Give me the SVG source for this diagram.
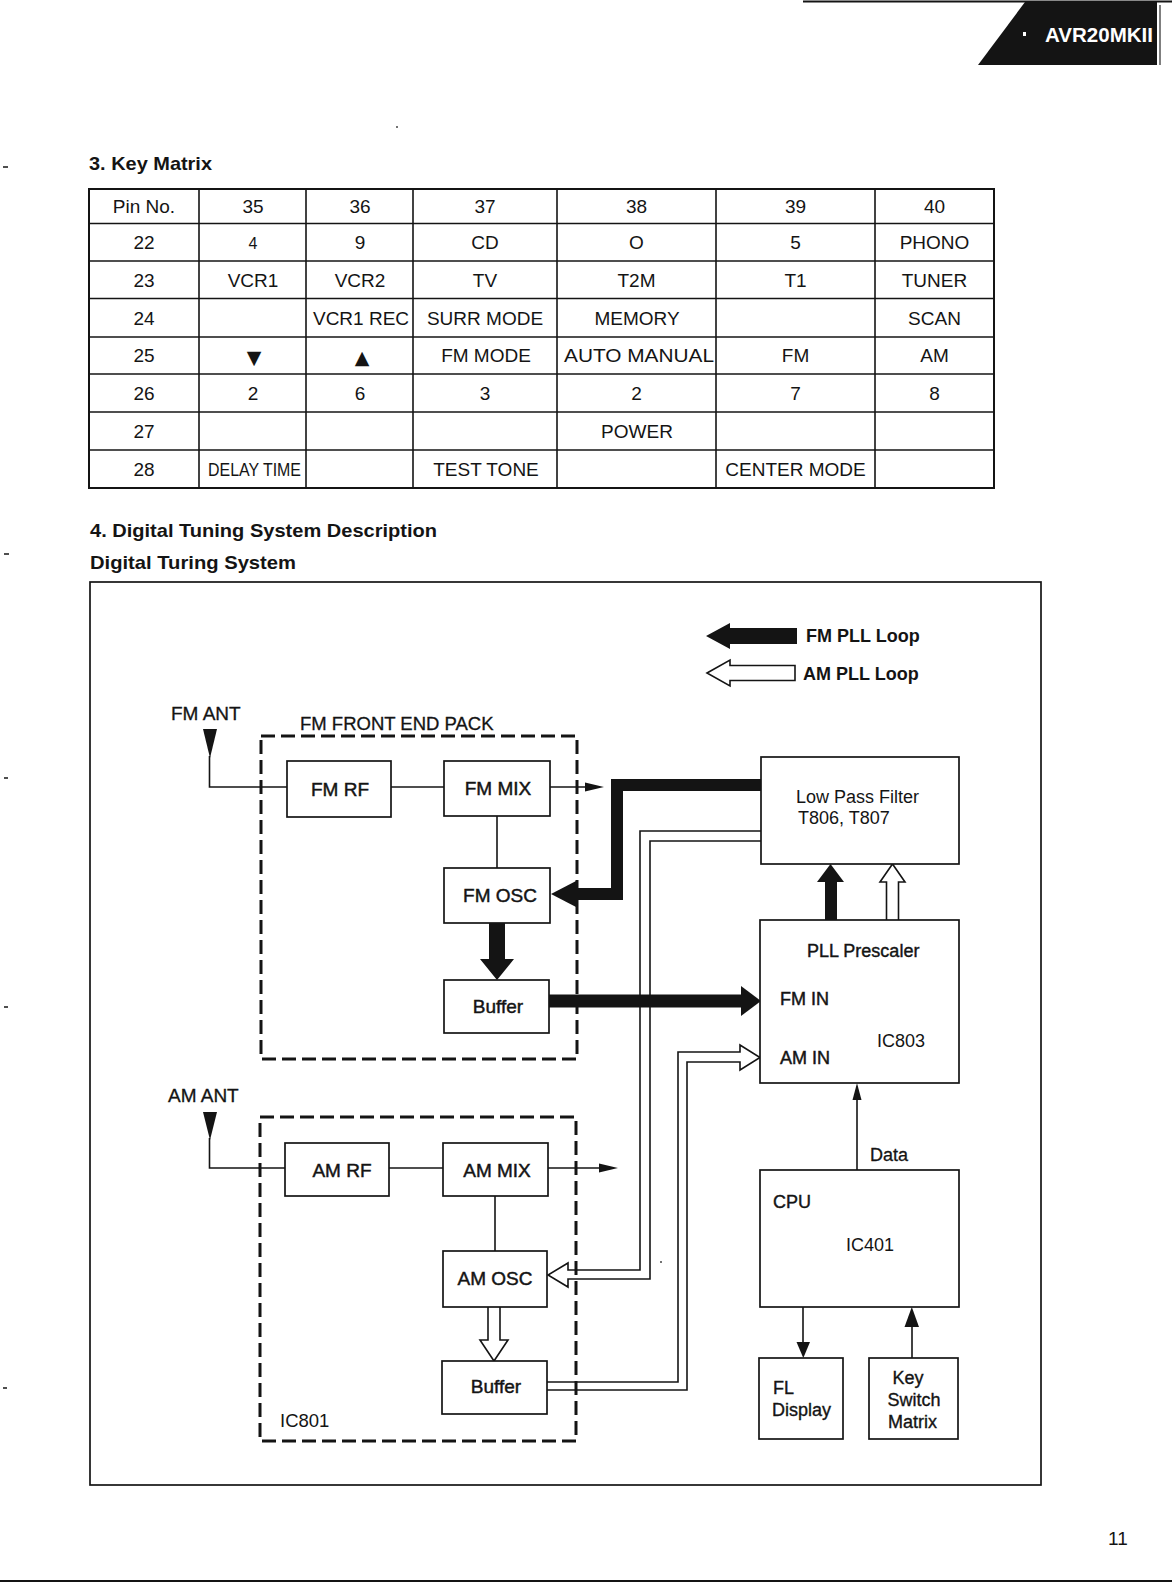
<svg xmlns="http://www.w3.org/2000/svg" width="1172" height="1596" viewBox="0 0 1172 1596">
<style>
.t{font-family:"Liberation Sans",Arial,sans-serif;fill:#141414}
.b{font-weight:bold}
.c{font-size:19px;text-anchor:middle}
.m{text-anchor:middle}
.l{font-size:19px;stroke:#141414;stroke-width:0.45}
.r{font-size:18px}
.grid{stroke:#141414;stroke-width:1.6;fill:none}
.box{fill:#fff;stroke:#141414;stroke-width:1.7}
.dash{fill:none;stroke:#141414;stroke-width:3;stroke-dasharray:14 6}
.wire{fill:none;stroke:#141414;stroke-width:1.6}
.dbl{fill:none;stroke:#141414;stroke-width:1.6;stroke-linejoin:miter}
.hol{fill:#fff;stroke:#141414;stroke-width:1.6;stroke-linejoin:miter}
.fill{fill:#141414}
.sym{font-family:"DejaVu Sans",sans-serif;font-size:19px}
</style>
<rect width="1172" height="1596" fill="#fff"/>

<!-- page furniture -->
<g id="header">
<line x1="803" y1="1.5" x2="1172" y2="1.5" stroke="#141414" stroke-width="2"/>
<polygon points="1025,2 1157,2 1157,65 978,65" fill="#141414"/>
<line x1="1160" y1="5" x2="1160" y2="65" stroke="#555" stroke-width="1.5"/>
<rect x="1023" y="32" width="3" height="4" fill="#fff"/>
<text class="t b" x="1045" y="42" font-size="20" textLength="108" lengthAdjust="spacingAndGlyphs" style="fill:#fff">AVR20MKII</text>
</g>
<g id="margin-marks" stroke="#141414" stroke-width="1.5">
<line x1="3" y1="167" x2="8" y2="167"/>
<line x1="4" y1="554" x2="9" y2="554"/>
<line x1="4" y1="778" x2="8" y2="778"/>
<line x1="4" y1="1007" x2="8" y2="1007"/>
<line x1="3" y1="1388" x2="7" y2="1388"/>
</g>
<circle cx="397" cy="127" r="1" fill="#444"/>
<circle cx="661" cy="1262" r="1" fill="#444"/>
<line x1="0" y1="1581" x2="1172" y2="1581" stroke="#141414" stroke-width="1.8"/>
<text class="t" x="1108" y="1545" font-size="19">11</text>

<!-- section 3: key matrix -->
<text class="t b" x="89" y="170" font-size="19" textLength="123" lengthAdjust="spacingAndGlyphs">3. Key Matrix</text>
<g id="key-matrix">
<rect x="89" y="189" width="905" height="299" fill="none" stroke="#141414" stroke-width="2"/>
<g class="grid">
<line x1="199" y1="189" x2="199" y2="488"/>
<line x1="306" y1="189" x2="306" y2="488"/>
<line x1="413" y1="189" x2="413" y2="488"/>
<line x1="557" y1="189" x2="557" y2="488"/>
<line x1="716" y1="189" x2="716" y2="488"/>
<line x1="875" y1="189" x2="875" y2="488"/>
<line x1="89" y1="223.5" x2="994" y2="223.5"/>
<line x1="89" y1="261" x2="994" y2="261"/>
<line x1="89" y1="298.5" x2="994" y2="298.5"/>
<line x1="89" y1="337" x2="994" y2="337"/>
<line x1="89" y1="374" x2="994" y2="374"/>
<line x1="89" y1="412" x2="994" y2="412"/>
<line x1="89" y1="450" x2="994" y2="450"/>
</g>
<g class="t c">
<text x="144" y="212.5">Pin No.</text>
<text x="253" y="212.5">35</text><text x="360" y="212.5">36</text><text x="485" y="212.5">37</text><text x="636.5" y="212.5">38</text><text x="795.5" y="212.5">39</text><text x="934.5" y="212.5">40</text>
<text x="144" y="249">22</text>
<text x="253" y="249" font-size="16">4</text><text x="360" y="249">9</text><text x="485" y="249">CD</text><text x="636.5" y="249">O</text><text x="795.5" y="249">5</text><text x="934.5" y="249">PHONO</text>
<text x="144" y="286.5">23</text>
<text x="253" y="286.5">VCR1</text><text x="360" y="286.5">VCR2</text><text x="485" y="286.5">TV</text><text x="636.5" y="286.5">T2M</text><text x="795.5" y="286.5">T1</text><text x="934.5" y="286.5">TUNER</text>
<text x="144" y="324.5">24</text>
<text x="361" y="324.5">VCR1 REC</text><text x="485" y="324.5">SURR MODE</text><text x="637" y="324.5">MEMORY</text><text x="934.5" y="324.5">SCAN</text>
<text x="144" y="362">25</text>
<text class="sym" x="254" y="364">▼</text><text class="sym" x="362" y="364">▲</text>
<text x="486" y="362">FM MODE</text><text x="639" y="362" textLength="150" lengthAdjust="spacingAndGlyphs">AUTO MANUAL</text><text x="795.5" y="362">FM</text><text x="934.5" y="362">AM</text>
<text x="144" y="399.5">26</text>
<text x="253" y="399.5">2</text><text x="360" y="399.5">6</text><text x="485" y="399.5">3</text><text x="636.5" y="399.5">2</text><text x="795.5" y="399.5">7</text><text x="934.5" y="399.5">8</text>
<text x="144" y="437.5">27</text>
<text x="637" y="437.5">POWER</text>
<text x="144" y="475.5">28</text>
<text x="254.5" y="475.5" textLength="93" lengthAdjust="spacingAndGlyphs">DELAY TIME</text><text x="486" y="475.5">TEST TONE</text><text x="795.5" y="475.5">CENTER MODE</text>
</g>
</g>

<!-- section 4 -->
<text class="t b" x="90" y="537" font-size="19" textLength="347" lengthAdjust="spacingAndGlyphs">4. Digital Tuning System Description</text>
<text class="t b" x="90" y="569" font-size="19" textLength="206" lengthAdjust="spacingAndGlyphs">Digital Turing System</text>
<rect id="frame" x="90" y="582" width="951" height="903" fill="none" stroke="#141414" stroke-width="1.7"/>

<g id="legend">
<polygon class="fill" points="706,636 730,623 730,628 797,628 797,644 730,644 730,649"/>
<text class="t b r" x="806" y="642">FM PLL Loop</text>
<polygon class="hol" points="707,673 730,660 730,665.5 795,665.5 795,680.5 730,680.5 730,686"/>
<text class="t b r" x="803" y="680">AM PLL Loop</text>
</g>

<!-- connectors -->
<g id="connectors">
<polygon class="fill" points="203,729 217,729 210,758"/>
<polyline class="wire" points="209.5,756 209.5,787 287,787"/>
<line class="wire" x1="391" y1="787" x2="444" y2="787"/>
<line class="wire" x1="550" y1="787" x2="588" y2="787"/>
<polygon class="fill" points="585,782.5 604,787 585,791.5"/>
<line class="wire" x1="497" y1="816" x2="497" y2="868"/>
<polygon class="fill" points="203,1112 217,1112 210,1140"/>
<polyline class="wire" points="209.5,1138 209.5,1168 285,1168"/>
<line class="wire" x1="389" y1="1168" x2="443" y2="1168"/>
<line class="wire" x1="548" y1="1168" x2="602" y2="1168"/>
<polygon class="fill" points="599,1163.5 618,1168 599,1172.5"/>
<line class="wire" x1="495" y1="1196" x2="495" y2="1251"/>
<path class="dbl" d="M761,831 H640 V1270 H568 V1263 L548,1275 L568,1287 V1279 H650 V841 H761"/>
<path class="dbl" d="M547,1382 H678 V1052 H740 V1045 L760,1057.5 L740,1070 V1062 H687 V1390 H547"/>
<path class="hol" d="M488,1307 V1340 H480 L494,1361 L508,1340 H500 V1307"/>
<path class="hol" d="M886.5,920 V882 H880 L892.5,864 L905,882 H898.5 V920"/>
<path class="fill" d="M825,920 V882 H817 L830.5,864 L844,882 H837 V920 Z"/>
<path class="fill" d="M489,923 V959 H480 L497,980 L514,959 H505 V923 Z"/>
<path d="M761,785 H617 V894 H574" fill="none" stroke="#141414" stroke-width="12" stroke-linejoin="miter"/>
<polygon class="fill" points="577,880.5 551,894 577,907.5"/>
<line x1="549" y1="1001" x2="743" y2="1001" stroke="#141414" stroke-width="13"/>
<polygon class="fill" points="741,986 761,1001 741,1016"/>
<line class="wire" x1="857" y1="1170" x2="857" y2="1099"/>
<polygon class="fill" points="852.5,1100 861.5,1100 857,1083"/>
<line class="wire" x1="803" y1="1307" x2="803" y2="1343"/>
<polygon class="fill" points="796.5,1342 810,1342 803.3,1358"/>
<line class="wire" x1="912" y1="1358" x2="912" y2="1326"/>
<polygon class="fill" points="904.5,1327 919,1327 911.8,1307"/>
</g>

<!-- FM front end -->
<text class="t" x="171" y="720" font-size="19" style="stroke:#141414;stroke-width:0.3">FM ANT</text>
<g id="fm-front-end-pack">
<rect class="dash" x="261" y="736" width="316" height="323"/>
<text class="t" x="300" y="730" font-size="18.5" style="stroke:#141414;stroke-width:0.3">FM FRONT END PACK</text>
</g>
<g id="fm-rf"><rect class="box" x="287" y="761" width="104" height="56"/><text class="t l m" x="340" y="796">FM RF</text></g>
<g id="fm-mix"><rect class="box" x="444" y="761" width="106" height="55"/><text class="t l m" x="498" y="795">FM MIX</text></g>
<g id="fm-osc"><rect class="box" x="444" y="868" width="106" height="55"/><text class="t l m" x="500" y="902">FM OSC</text></g>
<g id="fm-buffer"><rect class="box" x="444" y="980" width="105" height="53"/><text class="t l m" x="498" y="1013">Buffer</text></g>

<!-- AM front end -->
<text class="t" x="168" y="1101.5" font-size="19" style="stroke:#141414;stroke-width:0.3">AM ANT</text>
<g id="am-ic801">
<rect class="dash" x="260" y="1117" width="316" height="324"/>
<text class="t" x="280" y="1426.5" font-size="18.5">IC801</text>
</g>
<g id="am-rf"><rect class="box" x="285" y="1143" width="104" height="53"/><text class="t l m" x="342" y="1177">AM RF</text></g>
<g id="am-mix"><rect class="box" x="443" y="1143" width="105" height="53"/><text class="t l m" x="497" y="1177">AM MIX</text></g>
<g id="am-osc"><rect class="box" x="443" y="1251" width="104" height="56"/><text class="t l m" x="495" y="1285">AM OSC</text></g>
<g id="am-buffer"><rect class="box" x="442" y="1361" width="105" height="53"/><text class="t l m" x="496" y="1393">Buffer</text></g>

<!-- right side -->
<g id="low-pass-filter"><rect class="box" x="761" y="757" width="198" height="107"/>
<text class="t r" x="796" y="803">Low Pass Filter</text><text class="t r" x="798" y="824">T806, T807</text></g>
<g id="pll-prescaler"><rect class="box" x="760" y="920" width="199" height="163"/>
<text class="t r" x="807" y="957" style="stroke:#141414;stroke-width:0.4">PLL Prescaler</text>
<text class="t r" x="780" y="1005" style="stroke:#141414;stroke-width:0.45">FM IN</text>
<text class="t r" x="877" y="1047">IC803</text>
<text class="t r" x="780" y="1064" style="stroke:#141414;stroke-width:0.45">AM IN</text></g>
<text class="t r" x="870" y="1161" style="stroke:#141414;stroke-width:0.3">Data</text>
<g id="cpu"><rect class="box" x="760" y="1170" width="199" height="137"/>
<text class="t r" x="773" y="1208" style="stroke:#141414;stroke-width:0.4">CPU</text>
<text class="t r" x="846" y="1251">IC401</text></g>
<g id="fl-display"><rect class="box" x="759" y="1358" width="84" height="81"/>
<text class="t r" x="773" y="1394" style="stroke:#141414;stroke-width:0.35">FL</text>
<text class="t r" x="772" y="1416" style="stroke:#141414;stroke-width:0.35">Display</text></g>
<g id="key-switch-matrix"><rect class="box" x="869" y="1358" width="89" height="81"/>
<text class="t r m" x="908" y="1384" style="stroke:#141414;stroke-width:0.35">Key</text>
<text class="t r m" x="914" y="1406" style="stroke:#141414;stroke-width:0.35">Switch</text>
<text class="t r m" x="912.5" y="1428" style="stroke:#141414;stroke-width:0.35">Matrix</text></g>
</svg>
